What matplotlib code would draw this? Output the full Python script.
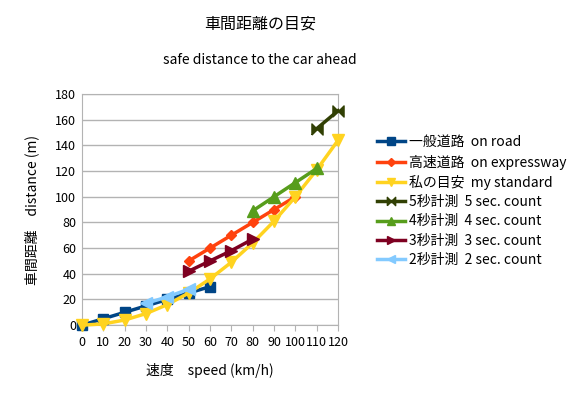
import matplotlib
matplotlib.use("Agg")
import matplotlib.pyplot as plt

plt.rcParams['font.family'] = ['Noto Sans CJK JP', 'DejaVu Sans']

# 速度 (km/h) と車間距離 (m)
road_x = [0, 10, 20, 30, 40, 50, 60]
road_y = [0, 5, 10, 15, 20, 25, 30]

expr_x = [50, 60, 70, 80, 90, 100]
expr_y = [50, 60, 70, 80, 90, 100]

mine_x = [0, 10, 20, 30, 40, 50, 60, 70, 80, 90, 100, 110, 120]
mine_y = [0, 1, 4, 9, 16, 25, 36, 49, 64, 81, 100, 121, 144]

sec5_x = [110, 120]
sec5_y = [153, 167]

sec4_x = [80, 90, 100, 110]
sec4_y = [89, 100, 111, 122]

sec3_x = [50, 60, 70, 80]
sec3_y = [42, 50, 58, 67]

sec2_x = [30, 40, 50]
sec2_y = [17, 22, 28]

labels = ["一般道路  on road", "高速道路  on expressway", "私の目安  my standard",
          "5秒計測  5 sec. count", "4秒計測  4 sec. count",
          "3秒計測  3 sec. count", "2秒計測  2 sec. count"]

# 蝶ネクタイ型のマーカー
bowtie = [(-1, -1), (0, 0), (1, -1), (1, 1), (0, 0), (-1, 1), (-1, -1)]

fig = plt.figure(figsize=(5.81, 3.98), dpi=100)
ax = fig.add_axes([0.141, 0.183, 0.441, 0.581])

series = [
    (road_x, road_y, "#004586", "s", 7.5),
    (expr_x, expr_y, "#ff420e", "D", 5.5),
    (mine_x, mine_y, "#ffd320", "v", 8),
    (sec5_x, sec5_y, "#314004", bowtie, 8),
    (sec4_x, sec4_y, "#579d1c", "^", 8.5),
    (sec3_x, sec3_y, "#7e0021", ">", 8.5),
    (sec2_x, sec2_y, "#83caff", "<", 8.5),
]
for (x, y, c, m, ms), lab in zip(series, labels):
    ax.plot(x, y, color=c, marker=m, markersize=ms, linewidth=2.5,
            label=lab, clip_on=False, zorder=3)

ax.set_xlim(0, 120)
ax.set_ylim(0, 180)
ax.set_xticks(range(0, 121, 10))
ax.set_yticks(range(0, 181, 20))
ax.tick_params(axis='both', labelsize=9, length=0, pad=4)
ax.tick_params(axis='x', length=4, direction='out', color='#b3b3b3')
ax.yaxis.grid(True, color='#b3b3b3', linewidth=1)
ax.set_axisbelow(True)
for s in ax.spines.values():
    s.set_color('#b3b3b3')

ax.set_xlabel("速度　speed (km/h)", fontsize=10, labelpad=10)
ax.set_ylabel("車間距離　distance (m)", fontsize=10, labelpad=12)

fig.text(0.448, 0.94, "車間距離の目安", ha='center', va='center', fontsize=11.5)
fig.text(0.448, 0.85, "safe distance to the car ahead", ha='center', va='center', fontsize=10)

leg = ax.legend(loc='upper left', bbox_to_anchor=(1.13, 0.845), frameon=False,
                fontsize=10, handlelength=2.0, labelspacing=0.38, borderaxespad=0,
                handletextpad=0.3, markerscale=0.75)

fig.savefig("out.png", dpi=100)
